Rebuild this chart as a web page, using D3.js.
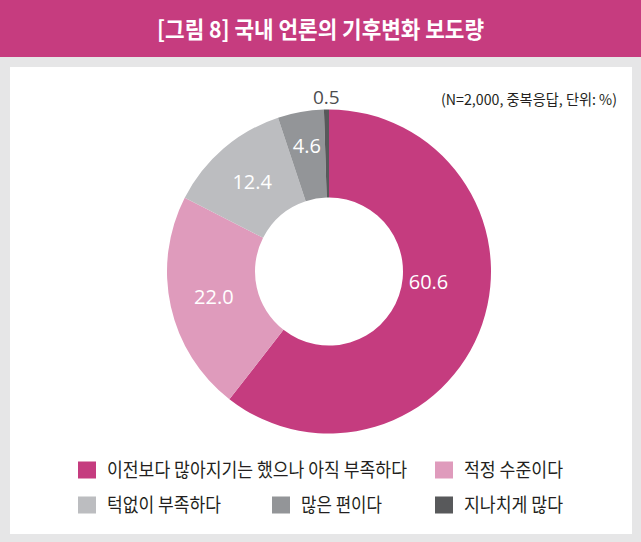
<!DOCTYPE html>
<html><head><meta charset="utf-8">
<script src="https://cdn.jsdelivr.net/npm/d3@7"></script>
<style>html,body{margin:0;padding:0;background:#e6e6e7;}svg{display:block;}</style>
</head><body>
<svg id="c" width="641" height="542"></svg>
<script>
const title = "[그림 8] 국내 언론의 기후변화 보도량";
const note = "(N=2,000, 중복응답, 단위: %)";
const categories = ["이전보다 많아지기는 했으나 아직 부족하다","적정 수준이다","턱없이 부족하다","많은 편이다","지나치게 많다"];
const values = [60.6, 22.0, 12.4, 4.6, 0.5];
const labels = ["60.6","22.0","12.4","4.6","0.5"];
const colors = ["#c53c7f","#df9bbc","#bcbdc0","#939598","#58595b"];

const W = 641, H = 542;
const svg = d3.select("#c");
const font = "'Noto Sans CJK KR','Noto Sans',sans-serif";

svg.append("rect").attr("x",0).attr("y",0).attr("width",W).attr("height",H).attr("fill","#e6e6e7");
svg.append("rect").attr("x",0).attr("y",0).attr("width",W).attr("height",57).attr("fill","#c63c7f");
svg.append("text").attr("x",320.5).attr("y",38).attr("text-anchor","middle")
  .attr("font-family",font).attr("font-size",23).attr("font-weight",600).attr("fill","#fff")
  .attr("textLength",327).attr("lengthAdjust","spacingAndGlyphs").text(title);
svg.append("rect").attr("x",10).attr("y",67).attr("width",622).attr("height",467).attr("fill","#fff");

svg.append("text").attr("x",617).attr("y",105).attr("text-anchor","end")
  .attr("font-family",font).attr("font-size",14.5).attr("fill","#231f20")
  .attr("textLength",176).attr("lengthAdjust","spacingAndGlyphs").text(note);

const cx = 329, cy = 271.5, rOut = 162, rIn = 74;
const g = svg.append("g").attr("transform",`translate(${cx},${cy})`);
const pie = d3.pie().sort(null).value(d=>d);
const arcs = pie(values);
const arc = d3.arc().innerRadius(rIn).outerRadius(rOut);
g.selectAll("path.s").data(arcs).join("path").attr("class","s")
  .attr("d",arc).attr("fill",(d,i)=>colors[i]);

// label placement: inside for large slices, outside for tiny slices
const labelR = [100, 118, 118, 127, 174];
const angleShift = [-0.23, 0, 0, 0, 0];
g.selectAll("text.l").data(arcs).join("text").attr("class","l")
  .each(function(d,i){
    const a = (d.startAngle+d.endAngle)/2 + angleShift[i];
    const r = labelR[i];
    const x = r*Math.sin(a), y = -r*Math.cos(a);
    d3.select(this).attr("x",x).attr("y",y).attr("dy","0.35em");
  })
  .attr("text-anchor","middle").attr("font-family","'Open Sans','Noto Sans',sans-serif")
  .attr("font-size",(d,i)=> i===4?19:20)
  .attr("fill",(d,i)=> i===4?"#4d4d4f":"#fff")
  .text((d,i)=>labels[i]);

// legend
const legendPos = [[78,470],[435,470],[78,505],[272,505],[435,505]];
const legendW = [300,99,114,81,99];
const lg = svg.append("g");
categories.forEach((c,i)=>{
  const [x,y] = legendPos[i];
  lg.append("rect").attr("x",x).attr("y",y-8.5).attr("width",18).attr("height",17).attr("fill",colors[i]);
  lg.append("text").attr("x",x+29).attr("y",y+7).attr("font-family",font).attr("font-size",19)
    .attr("fill","#231f20").attr("textLength",legendW[i]).attr("lengthAdjust","spacingAndGlyphs").text(c);
});
</script>
</body></html>
